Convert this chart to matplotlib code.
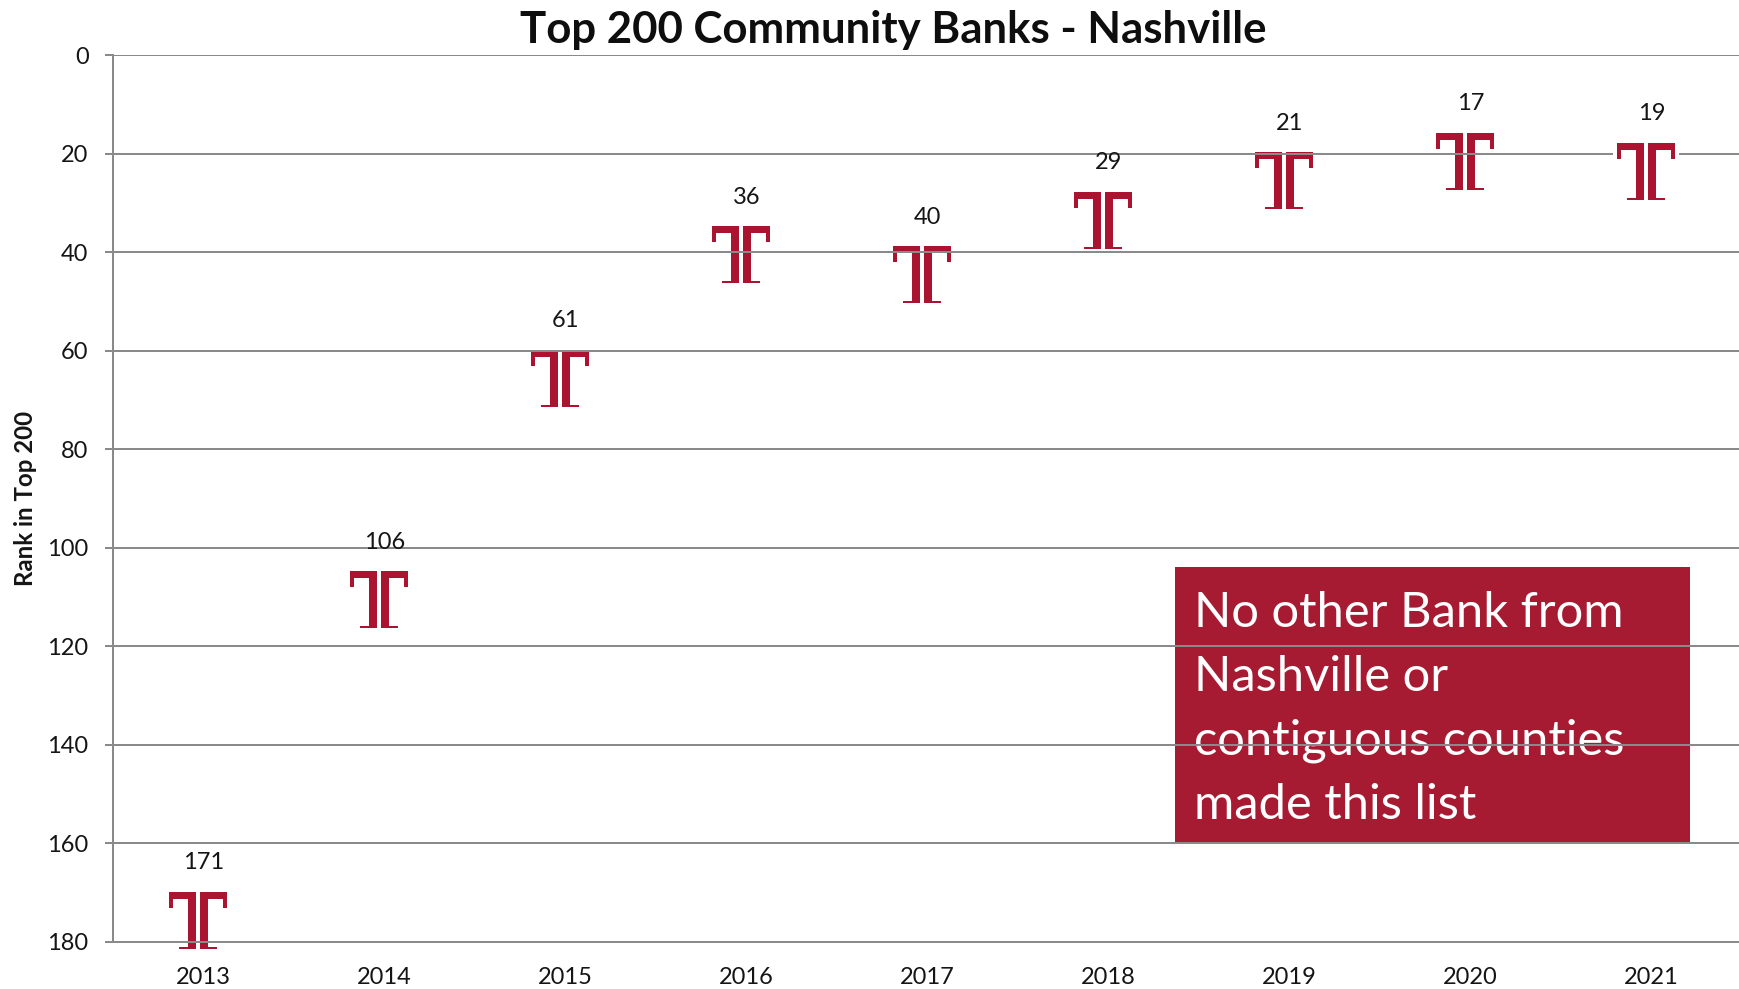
"""Rank of the bank in the Top 200 Community Banks list, by year."""

import matplotlib.pyplot as plt
from matplotlib.patches import Rectangle
from matplotlib.path import Path

WIDTH, HEIGHT, DPI = 1739, 989, 100
RED = "#AB1430"
BOX_RED = "#A61B31"
GREY = "#8A8A8A"
INK = "#151515"

years = ["2013", "2014", "2015", "2016", "2017", "2018", "2019", "2020", "2021"]
ranks = [171, 106, 61, 36, 40, 29, 21, 17, 19]
rank_ticks = [0, 20, 40, 60, 80, 100, 120, 140, 160, 180]
note_lines = ["No other Bank from", "Nashville or", "contiguous counties", "made this list"]

plt.rcParams["font.family"] = ["Lato", "DejaVu Sans"]


def px(v: float) -> float:
    """Pixels to points at the output dpi."""
    return v * 72 / DPI


def logo_path() -> Path:
    """Split-stem T logo; units are thirds of a pixel, origin at the anchor point."""
    half = [
        (86, 0), (5, 0), (5, 170), (56, 170), (56, 164), (30, 164),
        (30, 20), (76, 20), (76, 47), (86, 47), (86, 0),
    ]
    dx, dy = -18, 18
    verts, codes = [], []
    for sign in (-1, 1):
        for i, (x, y) in enumerate(half):
            verts.append((sign * x + dx, dy - y))
            codes.append(Path.MOVETO if i == 0 else Path.LINETO)
    return Path(verts, codes)


def marker_size(path: Path) -> float:
    # custom markers get normalised by their largest coordinate
    return px(2 * abs(path.vertices).max() / 3)


fig = plt.figure(figsize=(WIDTH / DPI, HEIGHT / DPI), dpi=DPI, facecolor="white")
ax = fig.add_axes([113 / WIDTH, 1 - 942 / HEIGHT, (1742 - 113) / WIDTH, (942 - 55) / HEIGHT])

xs = list(range(len(years)))
logo = logo_path()
backing = Path([(-117, 24), (81, 24), (81, -158), (-117, -158), (-117, 24)])

ax.plot(xs[:-1], ranks[:-1], ls="none", marker=logo, ms=marker_size(logo), mfc=RED, mew=0, zorder=2, clip_on=False)
# the last logo sits on a white square that interrupts the gridline
ax.plot(xs[-1:], ranks[-1:], ls="none", marker=backing, ms=marker_size(backing), mfc="white", mew=0, zorder=3, clip_on=False)
ax.plot(xs[-1:], ranks[-1:], ls="none", marker=logo, ms=marker_size(logo), mfc=RED, mew=0, zorder=3.1, clip_on=False)

for x, r in zip(xs, ranks):
    ax.annotate(
        str(r), (x, r), xytext=(0, px(35)), textcoords="offset points",
        ha="center", va="center", fontsize=17, color=INK, zorder=3.2,
    )

ax.set_xlim(-0.5, len(years) - 0.5)
ax.set_ylim(180, 0)
ax.set_xticks(xs, years)
ax.set_yticks(rank_ticks)
ax.set_axisbelow(False)
ax.grid(axis="y", color=GREY, lw=px(2))
ax.tick_params(axis="x", length=0, pad=px(25), labelsize=17, labelcolor=INK)
ax.tick_params(axis="y", length=px(8.5), width=px(2), color=GREY, pad=px(16), labelsize=17, labelcolor=INK)
for side in ("top", "right"):
    ax.spines[side].set_visible(False)
for side in ("left", "bottom"):
    ax.spines[side].set_color(GREY)
    ax.spines[side].set_linewidth(px(2))

# note box, kept under the gridlines
ax.add_patch(Rectangle(
    (1175 / WIDTH, 1 - 844 / HEIGHT), (1690 - 1175) / WIDTH, (844 - 567) / HEIGHT,
    transform=fig.transFigure, facecolor=BOX_RED, edgecolor="none", zorder=1, clip_on=False,
))
for i, line in enumerate(note_lines):
    ax.text(
        1194 / WIDTH, 1 - (613 + 64 * i) / HEIGHT, line, transform=fig.transFigure,
        ha="left", va="center", fontsize=35.2, color="white", zorder=1.5,
    )

fig.text(893 / WIDTH, 1 - 30 / HEIGHT, "Top 200 Community Banks - Nashville", ha="center", va="center",
         fontsize=31.5, fontweight="bold", color="#0E0E0E")
fig.text(26 / WIDTH, 1 - 498 / HEIGHT, "Rank in Top 200", rotation=90, ha="center", va="center",
         fontsize=17.3, fontweight="bold", color=INK)

fig.savefig("out.png", dpi=DPI)
